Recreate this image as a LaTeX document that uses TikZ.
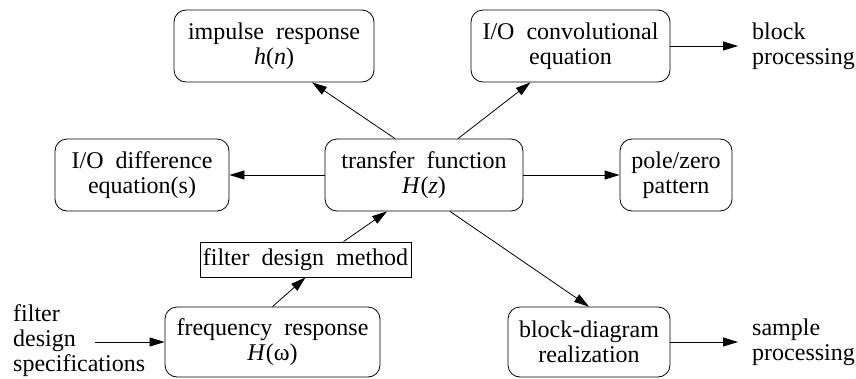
\documentclass[tikz,border=0pt]{standalone}
\usepackage{fontspec}
\setmainfont{Liberation Serif}
\usetikzlibrary{arrows.meta, positioning}

\newcommand\boxfont{\fontsize{24}{25}\selectfont}
\tikzset{
  txt/.style={font=\boxfont, align=center, execute at begin node={\spaceskip=0.5em\relax}},
  blk/.style={txt, draw, rounded corners=12pt, line width=0.8pt, inner sep=0pt},
  flow/.style={-{Triangle[length=15pt, width=9pt]}, line width=0.8pt},
}

\begin{document}
\begin{tikzpicture}[x=1pt, y=-1pt]
        \useasboundingbox (0,0) rectangle (856,378);
        % boxes round the transfer function
        \node[blk, minimum width=198pt, minimum height=72pt] (tf) at (424, 175) {transfer function\\\textit{H}(\textit{z})};
        \node[blk, minimum width=200pt, minimum height=72pt] (imp) at (274, 46) {impulse response\\\textit{h}(\textit{n})};
        \node[blk, minimum width=199pt, minimum height=72pt] (conv) at (570.5, 46) {I/O convolutional\\equation};
        \node[blk, minimum width=174pt, minimum height=72pt] (diff) at (142, 175) {I/O difference\\equation(s)};
        \node[blk, minimum width=112pt, minimum height=72pt] (pz) at (676, 175) {pole/zero\\pattern};
        \node[txt, draw, line width=0.8pt, inner sep=0pt, minimum width=211pt, minimum height=35pt] (fdm) at (305.5, 259.5) {filter design method};
        \node[blk, minimum width=215pt, minimum height=70pt] (freq) at (272.5, 342) {frequency response\\\textit{H}(ω)};
        \node[blk, minimum width=162pt, minimum height=70pt] (bd) at (589, 342) {block-diagram\\realization};
        % free texts
        \node[txt, align=left, inner xsep=14pt, inner ysep=0pt, anchor=west] (bproc) at (738, 46) {block\\processing};
        \node[txt, align=left, inner xsep=14pt, inner ysep=0pt, anchor=west] (sproc) at (738, 342) {sample\\processing};
        \node[txt, align=left, inner sep=0pt, anchor=west] (spec) at (13, 341) {filter\\design\\specifications};
        \coordinate (specout) at (95, 342);
        % connectors
        \draw[flow] ([xshift=-29pt]tf.north) -- ([xshift=38pt]imp.south);
        \draw[flow] ([xshift=34pt]tf.north) -- ([xshift=-40pt]conv.south);
        \draw[flow] (tf.west) -- (diff.east);
        \draw[flow] (tf.east) -- (pz.west);
        \draw[flow] ([xshift=26pt]tf.south) -- (bd.north);
        \draw[flow] (freq.north) -- (fdm.south);
        \draw[flow] ([xshift=38pt]fdm.north) -- ([xshift=-37pt]tf.south);
        \draw[flow] (specout) -- (freq.west);
        \draw[flow] (conv) -- (bproc);
        \draw[flow] (bd) -- (sproc);
\end{tikzpicture}
\end{document}
